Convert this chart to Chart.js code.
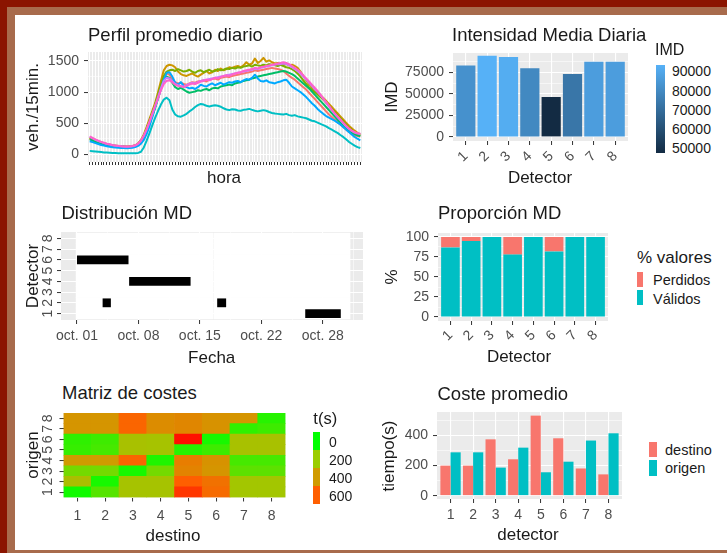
<!DOCTYPE html>
<html lang="es">
<head>
<meta charset="utf-8">
<title>Detectores - resumen</title>
<script src="https://cdn.jsdelivr.net/npm/chart.js@4.4.1/dist/chart.umd.min.js"></script>
<style>
  body { margin: 0; width: 727px; height: 553px; overflow: hidden; position: relative; background: #8b1400; font-family: "Liberation Sans", Arial, sans-serif; }
  #marco { position: absolute; left: 7px; top: 7px; width: 720px; height: 546px; background: #a86b4c; }
  #hoja { position: absolute; left: 15px; top: 15px; width: 712px; height: 535px; background: #ffffff; }
  canvas { position: absolute; }
  .txt { position: absolute; white-space: nowrap; line-height: 1; color: #1a1a1a; }
  .caja { position: absolute; }
</style>
</head>
<body>
<div id="marco"></div>
<div id="hoja"></div>
<script>
// ---------- datos ----------
const detectores = ['1', '2', '3', '4', '5', '6', '7', '8'];
const coloresDet = ['#F8766D', '#CD9600', '#7CAE00', '#00BE67', '#00BFC4', '#00A9FF', '#C77CFF', '#FF61CC'];

const horas = [];
for (let h = 0; h < 24; h++) for (const m of ['00', '15', '30', '45']) horas.push(String(h).padStart(2, '0') + ':' + m);

// perfil medio diario, veh/15min (96 cuartos de hora)
const perfilD1 = [250, 230, 210, 195, 180, 168, 158, 148, 140, 134, 128, 124, 120, 118, 120, 126,
  138, 165, 215, 295, 400, 520, 650, 780, 930, 1090, 1230, 1300, 1280, 1210, 1160, 1140,
  1150, 1130, 1120, 1140, 1160, 1150, 1170, 1180, 1190, 1170, 1200, 1210, 1220, 1200, 1230, 1240,
  1250, 1240, 1260, 1270, 1280, 1290, 1300, 1310, 1320, 1330, 1350, 1340, 1350, 1360, 1370, 1380,
  1390, 1380, 1370, 1360, 1340, 1300, 1260, 1230, 1200, 1160, 1120, 1080, 1040, 990, 940, 890,
  840, 790, 740, 690, 640, 600, 560, 520, 480, 440, 400, 360, 330, 310, 295, 285];
const perfilD2 = [270, 250, 230, 210, 195, 180, 165, 155, 145, 140, 135, 130, 128, 125, 128, 132,
  145, 175, 230, 320, 440, 570, 700, 830, 1000, 1180, 1350, 1420, 1440, 1430, 1400, 1330,
  1290, 1270, 1260, 1280, 1300, 1270, 1250, 1280, 1310, 1340, 1300, 1320, 1360, 1340, 1380, 1350,
  1370, 1400, 1390, 1410, 1420, 1400, 1430, 1480, 1440, 1460, 1540, 1470, 1500, 1550, 1490, 1510,
  1480, 1460, 1470, 1450, 1440, 1450, 1430, 1440, 1420, 1390, 1330, 1260, 1190, 1130, 1080, 1040,
  990, 950, 905, 860, 810, 760, 710, 660, 610, 560, 510, 460, 420, 380, 345, 315];
const perfilD3 = [260, 240, 220, 200, 185, 170, 160, 150, 140, 135, 130, 128, 125, 122, 125, 130,
  140, 165, 215, 300, 410, 540, 670, 800, 960, 1120, 1260, 1330, 1350, 1360, 1340, 1370,
  1350, 1330, 1340, 1360, 1330, 1310, 1340, 1350, 1320, 1340, 1360, 1330, 1340, 1370, 1350, 1360,
  1380, 1370, 1390, 1380, 1400, 1390, 1410, 1420, 1430, 1410, 1440, 1430, 1420, 1440, 1430, 1450,
  1440, 1430, 1420, 1440, 1420, 1400, 1390, 1370, 1340, 1300, 1250, 1190, 1130, 1080, 1040, 1000,
  960, 920, 880, 830, 780, 730, 680, 630, 580, 530, 480, 430, 390, 350, 320, 300];
const perfilD4 = [240, 220, 200, 185, 170, 160, 150, 140, 132, 126, 120, 116, 112, 110, 112, 118,
  128, 150, 195, 270, 370, 490, 620, 750, 900, 1050, 1180, 1250, 1230, 1150, 1080, 1050,
  1070, 1040, 1010, 990, 1000, 1010, 1030, 1020, 1040, 1050, 1030, 1060, 1070, 1060, 1090, 1100,
  1110, 1120, 1110, 1140, 1150, 1160, 1180, 1190, 1200, 1220, 1230, 1250, 1260, 1270, 1280, 1290,
  1300, 1310, 1320, 1330, 1340, 1330, 1310, 1290, 1260, 1220, 1180, 1140, 1100, 1060, 1010, 960,
  910, 860, 810, 760, 710, 660, 610, 560, 510, 460, 420, 380, 350, 325, 305, 290];
const perfilD5 = [55, 50, 45, 40, 35, 30, 28, 25, 22, 20, 18, 18, 16, 15, 15, 16,
  18, 22, 40, 110, 220, 340, 470, 590, 700, 800, 880, 910, 870, 720, 640, 610,
  605, 625, 650, 690, 720, 760, 790, 810, 800, 780, 770, 780, 790, 780, 765, 740,
  720, 710, 725, 720, 705, 700, 715, 720, 730, 715, 700, 690, 700, 710, 700, 680,
  665, 655, 650, 645, 640, 650, 630, 620, 630, 610, 600, 590, 580, 560, 540, 530,
  510, 490, 470, 450, 420, 395, 370, 345, 310, 280, 240, 200, 170, 140, 115, 100];
const perfilD6 = [210, 195, 180, 165, 150, 140, 130, 122, 115, 110, 105, 100, 100, 98, 100, 105,
  115, 135, 170, 230, 330, 450, 600, 760, 900, 1050, 1200, 1310, 1320, 1250, 1150, 1120,
  1160, 1100, 1080, 1060, 1070, 1050, 1080, 1120, 1100, 1090, 1120, 1140, 1110, 1130, 1150, 1120,
  1140, 1160, 1150, 1170, 1180, 1160, 1190, 1210, 1200, 1230, 1280, 1220, 1180, 1170, 1190, 1160,
  1150, 1140, 1160, 1170, 1190, 1200, 1150, 1090, 1060, 1030, 1000, 960, 920, 870, 820, 780,
  730, 690, 650, 615, 590, 565, 540, 510, 480, 440, 400, 360, 320, 280, 250, 225];
const perfilD7 = [280, 255, 232, 212, 195, 180, 166, 156, 146, 139, 133, 128, 124, 121, 124, 130,
  142, 168, 218, 298, 400, 520, 650, 780, 920, 1060, 1180, 1230, 1220, 1170, 1130, 1110,
  1100, 1090, 1110, 1130, 1150, 1140, 1160, 1180, 1190, 1200, 1210, 1220, 1230, 1240, 1250, 1260,
  1270, 1280, 1290, 1300, 1310, 1320, 1330, 1340, 1350, 1360, 1380, 1370, 1390, 1400, 1410, 1420,
  1430, 1440, 1450, 1450, 1460, 1450, 1430, 1400, 1370, 1340, 1300, 1250, 1200, 1150, 1100, 1050,
  1000, 950, 890, 830, 770, 710, 650, 600, 550, 500, 450, 410, 375, 350, 335, 325];
const perfilD8 = [290, 265, 240, 220, 200, 185, 170, 160, 150, 142, 136, 130, 126, 124, 126, 132,
  145, 170, 220, 300, 400, 520, 650, 780, 900, 1030, 1130, 1180, 1190, 1160, 1120, 1100,
  1090, 1080, 1100, 1120, 1140, 1130, 1150, 1170, 1180, 1200, 1190, 1210, 1230, 1220, 1240, 1260,
  1270, 1260, 1280, 1300, 1310, 1320, 1340, 1350, 1360, 1370, 1390, 1380, 1400, 1410, 1420, 1430,
  1440, 1450, 1460, 1470, 1480, 1470, 1450, 1420, 1390, 1360, 1320, 1270, 1220, 1170, 1120, 1070,
  1020, 960, 900, 840, 780, 720, 660, 610, 560, 510, 460, 415, 380, 355, 340, 330];
const perfiles = [perfilD1, perfilD2, perfilD3, perfilD4, perfilD5, perfilD6, perfilD7, perfilD8];

// intensidad media diaria
const imd = [83200, 94500, 93000, 80100, 46500, 73400, 87500, 87500];
const imdLeyenda = [90000, 80000, 70000, 60000, 50000];

// datos perdidos (dias de octubre)
const mdDetector = [6, 4, 2, 2, 1];
const mdInicio = [1.0, 6.94, 3.92, 16.97, 27.0];
const mdFin = [6.87, 13.94, 4.86, 17.99, 31.05];
const tramoInicio = [0.9, 16.6];
const tramoFin = [16.5, 32.1];
const fechaTicks = [1, 8, 15, 22, 29];
const fechaEtiquetas = ['oct. 01', 'oct. 08', 'oct. 15', 'oct. 22', 'oct. 28'];

// proporcion de valores
const validos = [87, 95, 100, 78, 100, 82, 100, 100];
const perdidos = [13, 5, 0, 22, 0, 18, 0, 0];

// matriz de costes t(s): filas = origen 1..8, columnas = destino 1..8
const matrizCostes = [
  [20, 110, 240, 240, 650, 560, 230, 230],
  [260, 30, 240, 240, 600, 540, 230, 230],
  [150, 150, 30, 150, 480, 420, 120, 120],
  [400, 400, 580, 40, 500, 430, 90, 90],
  [70, 90, 250, 240, 50, 80, 250, 250],
  [60, 80, 250, 240, 700, 30, 250, 250],
  [420, 420, 580, 450, 470, 430, 60, 80],
  [420, 420, 580, 450, 470, 430, 420, 50]
];
const costeLeyenda = [0, 200, 400, 600];

// coste promedio
const costeDestino = [199, 199, 373, 241, 530, 380, 180, 141];
const costeOrigen = [287, 287, 186, 318, 155, 225, 365, 413];

// ---------- colores ----------
function mezcla(a, b, t) { return a.map((v, i) => Math.round(v + (b[i] - v) * t)); }
function rgb(c) { return 'rgb(' + c.join(',') + ')'; }
function colorImd(v) {
  const t = Math.min(1, Math.max(0, (v - 46500) / (94500 - 46500)));
  return rgb(mezcla([19, 43, 67], [86, 177, 247], t));
}
const paradas = [[0, [0, 255, 0]], [200, [155, 205, 0]], [400, [208, 155, 0]], [600, [255, 95, 0]], [720, [255, 0, 0]]];
function colorCoste(v) {
  for (let i = 1; i < paradas.length; i++) {
    if (v <= paradas[i][0]) {
      const [v0, c0] = paradas[i - 1], [v1, c1] = paradas[i];
      return rgb(mezcla(c0, c1, (v - v0) / (v1 - v0)));
    }
  }
  return rgb(paradas[paradas.length - 1][1]);
}

// ---------- plugins ----------
const fondoPanel = {
  id: 'fondoPanel',
  beforeDraw(chart) {
    const a = chart.chartArea, c = chart.ctx;
    c.save();
    c.fillStyle = '#ebebeb';
    c.fillRect(a.left, a.top, a.right - a.left, a.bottom - a.top);
    c.restore();
  }
};
const etiquetasGiradas = {
  id: 'etiquetasGiradas',
  afterDraw(chart, args, opts) {
    if (!opts.labels) return;
    const y = chart.scales.y, c = chart.ctx;
    c.save();
    c.font = '14px "Liberation Sans", Arial, sans-serif';
    c.fillStyle = '#4d4d4d';
    c.textAlign = 'center';
    c.textBaseline = 'middle';
    opts.labels.forEach((t, i) => {
      c.save();
      c.translate(opts.x, y.getPixelForValue(opts.values[i]));
      c.rotate(-Math.PI / 2);
      c.fillText(t, 0, 0);
      c.restore();
    });
    c.restore();
  }
};
Chart.register(fondoPanel, etiquetasGiradas);
Chart.defaults.font.family = '"Liberation Sans", Arial, sans-serif';

// ---------- ayudas ----------
function fijar(size) {
  return s => {
    if (s.isHorizontal()) s.height = size; else s.width = size;
    s.paddingLeft = 0; s.paddingRight = 0; s.paddingTop = 0; s.paddingBottom = 0;
  };
}

function escala(o) {
  const menor = o.menor || [];
  const e = {
    type: o.type || 'linear',
    offset: !!o.offset,
    stacked: !!o.stacked,
    border: { display: false },
    grid: {
      offset: false,
      color: '#ffffff',
      lineWidth: c => (c.tick && menor.includes(c.tick.value)) ? 0.55 : (o.lw || 1.1),
      tickColor: c => (c.tick && menor.includes(c.tick.value)) ? 'rgba(0,0,0,0)' : '#333333',
      tickLength: o.tl || 4,
      tickWidth: 1
    },
    ticks: {
      display: o.labels !== false,
      color: '#4d4d4d',
      font: { size: 14 },
      padding: o.pad !== undefined ? o.pad : 5,
      autoSkip: false,
      minRotation: o.rot || 0,
      maxRotation: o.rot || 0
    },
    afterFit: fijar(o.size)
  };
  if (o.min !== undefined) { e.min = o.min; e.max = o.max; }
  if (o.cb) e.ticks.callback = o.cb;
  if (o.vals) e.afterBuildTicks = s => { s.ticks = o.vals.map(v => ({ value: v })); };
  return e;
}

function grafico(x, y, w, h, pad, config, extraPlugins) {
  const cv = document.createElement('canvas');
  cv.width = w; cv.height = h;
  cv.style.left = x + 'px'; cv.style.top = y + 'px';
  cv.style.width = w + 'px'; cv.style.height = h + 'px';
  document.body.appendChild(cv);
  config.options = Object.assign({
    responsive: false,
    animation: false,
    events: [],
    layout: { padding: Object.assign({ left: 0, top: 0, right: 0, bottom: 0 }, pad) },
    plugins: Object.assign({ legend: { display: false }, tooltip: { enabled: false } }, extraPlugins || {})
  }, config.options);
  return new Chart(cv, config);
}

function texto(s, x, y, o = {}) {
  const d = document.createElement('div');
  d.className = 'txt';
  d.textContent = s;
  d.style.fontSize = (o.t || 17) + 'px';
  d.style.left = x + 'px';
  d.style.top = y + 'px';
  let tr = o.izq ? 'translate(0,-50%)' : 'translate(-50%,-50%)';
  if (o.rot) tr += ' rotate(-90deg)';
  d.style.transform = tr;
  document.body.appendChild(d);
}

function caja(x, y, w, h, fondo) {
  const d = document.createElement('div');
  d.className = 'caja';
  d.style.left = x + 'px'; d.style.top = y + 'px';
  d.style.width = w + 'px'; d.style.height = h + 'px';
  d.style.background = fondo;
  document.body.appendChild(d);
}

const posDet = detectores.map(Number);

// ---------- 1. Perfil promedio diario ----------
grafico(20, 40, 350, 160, { top: 12, right: 8 }, {
  type: 'line',
  data: {
    datasets: perfiles.map((serie, i) => ({
      data: serie.map((v, k) => ({ x: k, y: v })),
      borderColor: coloresDet[i],
      borderWidth: 2,
      borderJoinStyle: 'round',
      pointRadius: 0,
      order: 8 - i
    }))
  },
  options: {
    scales: {
      x: escala({ min: -0.6, max: 95.6, vals: horas.map((h, k) => k), labels: false, size: 38, tl: 3, lw: 1 }),
      y: escala({ min: -124, max: 1645, vals: [0, 250, 500, 750, 1000, 1250, 1500], menor: [250, 750, 1250], size: 68,
        cb: v => v % 500 === 0 ? String(v) : '' })
    }
  }
});

// ---------- 2. Intensidad Media Diaria ----------
grafico(375, 45, 260, 140, { top: 8, right: 7 }, {
  type: 'bar',
  data: {
    datasets: [{
      data: imd.map((v, i) => ({ x: posDet[i], y: v })),
      backgroundColor: imd.map(colorImd),
      categoryPercentage: 0.9,
      barPercentage: 1
    }]
  },
  options: {
    scales: {
      x: escala({ min: 0.4, max: 8.6, vals: posDet, size: 44, rot: 45, pad: 3, cb: v => String(v) }),
      y: escala({ min: -4700, max: 97700, vals: [0, 12500, 25000, 37500, 50000, 62500, 75000, 87500],
        menor: [12500, 37500, 62500, 87500], size: 78, cb: v => v % 25000 === 0 ? String(v) : '' })
    }
  }
});

// ---------- 3. Distribucion MD ----------
grafico(20, 222, 350, 130, { top: 10, right: 7 }, {
  type: 'bar',
  data: {
    datasets: [
      {
        data: mdDetector.map((d, k) => ({ x: [mdInicio[k], mdFin[k]], y: d })),
        backgroundColor: '#000000',
        barPercentage: 0.82,
        categoryPercentage: 1,
        grouped: false,
        order: 1
      },
      {
        data: posDet.flatMap(d => tramoInicio.map((a, k) => ({ x: [a, tramoFin[k]], y: d }))),
        backgroundColor: '#ffffff',
        barPercentage: 1,
        categoryPercentage: 1,
        grouped: false,
        order: 2
      }
    ]
  },
  options: {
    indexAxis: 'y',
    scales: {
      x: escala({ min: -0.82, max: 33.58, vals: [1, 4.5, 8, 11.5, 15, 18.5, 22, 25.5, 29, 32.5],
        menor: [4.5, 11.5, 18.5, 25.5, 32.5], size: 32, pad: 4,
        cb: v => { const k = fechaTicks.indexOf(v); return k >= 0 ? fechaEtiquetas[k] : ''; } }),
      y: escala({ min: 0.4, max: 8.6, vals: posDet, labels: false, size: 41 })
    }
  }
}, { etiquetasGiradas: { x: 28.3, labels: detectores, values: posDet } });

// ---------- 4. Proporcion MD ----------
grafico(380, 222, 235, 130, { top: 11, right: 7 }, {
  type: 'bar',
  data: {
    datasets: [
      { label: 'Válidos', data: validos.map((v, i) => ({ x: posDet[i], y: v })), backgroundColor: '#00BFC4',
        categoryPercentage: 0.9, barPercentage: 1, inflateAmount: 0 },
      { label: 'Perdidos', data: perdidos.map((v, i) => ({ x: posDet[i], y: v })), backgroundColor: '#F8766D',
        categoryPercentage: 0.9, barPercentage: 1, inflateAmount: 0 }
    ]
  },
  options: {
    scales: {
      x: escala({ min: 0.4, max: 8.6, vals: posDet, size: 31, rot: 45, pad: 2, stacked: true, cb: v => String(v) }),
      y: escala({ min: -5, max: 105, vals: [0, 12.5, 25, 37.5, 50, 62.5, 75, 87.5, 100],
        menor: [12.5, 37.5, 62.5, 87.5], size: 58, stacked: true, cb: v => v % 25 === 0 ? String(v) : '' })
    }
  }
});

// ---------- 5. Matriz de costes ----------
grafico(20, 405, 280, 125, { top: 8, right: 14.5 }, {
  type: 'bar',
  data: {
    labels: detectores,
    datasets: matrizCostes.map(fila => ({
      data: fila.map(() => 1),
      backgroundColor: fila.map(colorCoste),
      categoryPercentage: 1,
      barPercentage: 1
    }))
  },
  options: {
    scales: {
      x: escala({ type: 'category', offset: true, stacked: true, size: 32.5, pad: 6 }),
      y: escala({ min: 0, max: 8, vals: [0.5, 1.5, 2.5, 3.5, 4.5, 5.5, 6.5, 7.5], labels: false, stacked: true, size: 43.5 })
    }
  }
}, { etiquetasGiradas: { x: 28.3, labels: detectores, values: [0.5, 1.5, 2.5, 3.5, 4.5, 5.5, 6.5, 7.5] } });

// ---------- 6. Coste promedio ----------
grafico(380, 402, 250, 135, { top: 10, right: 8 }, {
  type: 'bar',
  data: {
    datasets: [
      { label: 'destino', data: costeDestino.map((v, i) => ({ x: posDet[i], y: v })), backgroundColor: '#F8766D',
        categoryPercentage: 0.9, barPercentage: 1 },
      { label: 'origen', data: costeOrigen.map((v, i) => ({ x: posDet[i], y: v })), backgroundColor: '#00BFC4',
        categoryPercentage: 0.9, barPercentage: 1 }
    ]
  },
  options: {
    scales: {
      x: escala({ min: 0.4, max: 8.6, vals: posDet, size: 38, pad: 4, cb: v => String(v) }),
      y: escala({ min: -22, max: 554, vals: [0, 100, 200, 300, 400, 500], menor: [100, 300, 500], size: 57,
        cb: v => v % 200 === 0 ? String(v) : '' })
    }
  }
});

// ---------- titulos ----------
texto('Perfil promedio diario', 88, 35, { t: 18.5, izq: true });
texto('Intensidad Media Diaria', 452, 34.5, { t: 18.5, izq: true });
texto('Distribución MD', 61.5, 213, { t: 18.5, izq: true });
texto('Proporción MD', 438, 213, { t: 18.5, izq: true });
texto('Matriz de costes', 62, 393, { t: 18.5, izq: true });
texto('Coste promedio', 437.5, 394, { t: 18.5, izq: true });

// ---------- ejes ----------
texto('veh./15min.', 32, 107, { rot: true });
texto('hora', 224, 177.4);
texto('IMD', 391, 97, { rot: true });
texto('Detector', 540, 177.4);
texto('Detector', 32, 276, { rot: true });
texto('Fecha', 211.7, 357.4);
texto('%', 391, 276.5, { rot: true });
texto('Detector', 519, 355.8);
texto('origen', 31.5, 455, { rot: true });
texto('destino', 173, 534.8);
texto('tiempo(s)', 388, 456, { rot: true });
texto('detector', 528, 534);

// ---------- leyendas ----------
texto('IMD', 655, 49.5, { t: 16, izq: true });
caja(656, 65, 9, 88, 'linear-gradient(to top, ' + colorImd(46500) + ', ' + colorImd(94500) + ')');
const imdPos = [70.7, 90.7, 110, 129.3, 148.3];
imdLeyenda.forEach((v, i) => texto(String(v), 672, imdPos[i], { t: 14, izq: true }));

texto('% valores', 637, 257.4, { t: 17, izq: true });
caja(637.3, 271.7, 6, 15, '#F8766D');
caja(637.3, 290, 6, 15, '#00BFC4');
texto('Perdidos', 653, 280, { t: 14.5, izq: true });
texto('Válidos', 653, 298.5, { t: 14.5, izq: true });

texto('t(s)', 313.3, 418, { t: 16.5, izq: true });
costeLeyenda.forEach((v, i) => {
  caja(313.3, 431.5 + i * 18, 7, 18, colorCoste(v));
  texto(String(v), 329, 441.5 + i * 18, { t: 14, izq: true });
});

caja(649.3, 441.7, 7.4, 15.6, '#F8766D');
caja(649.3, 460, 7.4, 16, '#00BFC4');
texto('destino', 665, 449.5, { t: 14.5, izq: true });
texto('origen', 665, 468, { t: 14.5, izq: true });
</script>
</body>
</html>
